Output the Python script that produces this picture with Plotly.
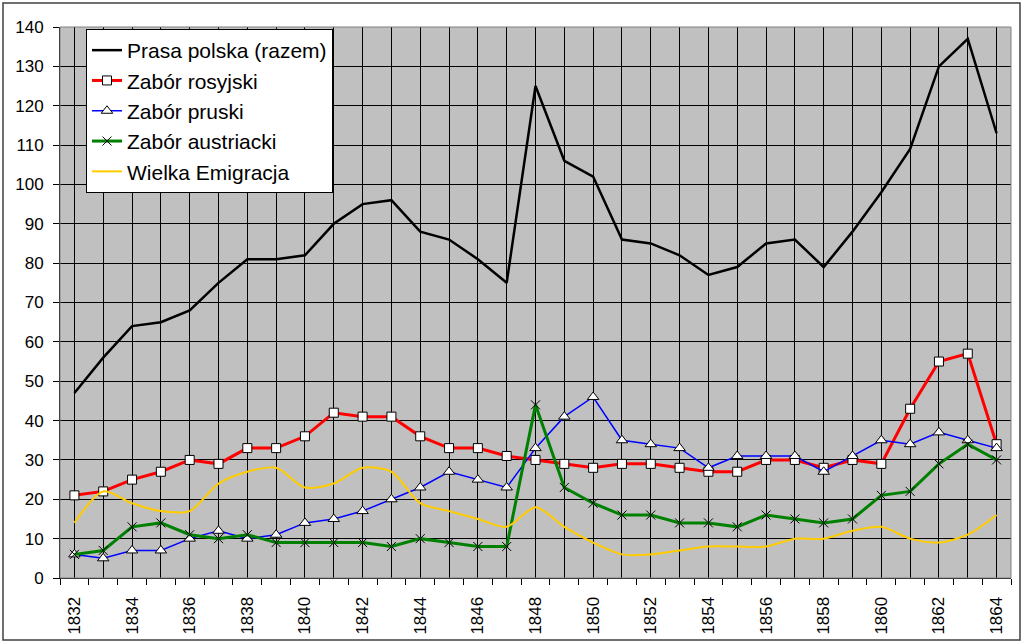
import plotly.graph_objects as go

years = list(range(1832, 1865))
prasa_polska = [47, 56, 64, 65, 68, 75, 81, 81, 82, 90, 95, 96, 88, 86, 81, 75, 125,
                106, 102, 86, 85, 82, 77, 79, 85, 86, 79, 88, 98, 109, 130, 137, 113]
zabor_rosyjski = [21, 22, 25, 27, 30, 29, 33, 33, 36, 42, 41, 41, 36, 33, 33, 31, 30,
                  29, 28, 29, 29, 28, 27, 27, 30, 30, 28, 30, 29, 43, 55, 57, 34]
zabor_pruski = [6, 5, 7, 7, 10, 12, 10, 11, 14, 15, 17, 20, 23, 27, 25, 23, 33,
                41, 46, 35, 34, 33, 28, 31, 31, 31, 27, 31, 35, 34, 37, 35, 33]
zabor_austriacki = [6, 7, 13, 14, 11, 10, 11, 9, 9, 9, 9, 8, 10, 9, 8, 8, 44,
                    23, 19, 16, 16, 14, 14, 13, 16, 15, 14, 15, 21, 22, 29, 34, 30]
wielka_emigracja = [14, 22, 19, 17, 17, 24, 27, 28, 23, 24, 28, 27, 19, 17, 15, 13, 18,
                    13, 9, 6, 6, 7, 8, 8, 8, 10, 10, 12, 13, 10, 9, 11, 16]

FONT = "Liberation Sans, Arial, sans-serif"

fig = go.Figure()
fig.add_trace(go.Scatter(x=years, y=prasa_polska, name="Prasa polska (razem)",
                         mode="lines", line=dict(color="black", width=2.5)))
fig.add_trace(go.Scatter(x=years, y=zabor_rosyjski, name="Zabór rosyjski",
                         mode="lines+markers", line=dict(color="#FF0000", width=3),
                         marker=dict(symbol="square", size=9, color="white",
                                     line=dict(color="black", width=1))))
fig.add_trace(go.Scatter(x=years, y=zabor_pruski, name="Zabór pruski",
                         mode="lines+markers", line=dict(color="#0000FF", width=1.5),
                         marker=dict(symbol="triangle-up", size=10, color="white",
                                     line=dict(color="black", width=1))))
fig.add_trace(go.Scatter(x=years, y=zabor_austriacki, name="Zabór austriacki",
                         mode="lines+markers", line=dict(color="#008000", width=3),
                         marker=dict(symbol="x-thin", size=9, color="black",
                                     line=dict(color="black", width=1))))
fig.add_trace(go.Scatter(x=years, y=wielka_emigracja, name="Wielka Emigracja",
                         mode="lines", line=dict(color="#FFCC00", width=2, shape="spline",
                                                 smoothing=0.8)))

L, R, T, B = 60, 1011, 27, 578
W, H = 1024, 644
pw, ph = R - L, B - T

def px(x):
    return (x - L) / pw

def py(y):
    return (B - y) / ph

fig.update_layout(
    width=W, height=H,
    margin=dict(l=L, r=W - R, t=T, b=H - B, pad=0, autoexpand=False),
    paper_bgcolor="white",
    plot_bgcolor="#C0C0C0",
    font=dict(family=FONT, size=17, color="black"),
    showlegend=True,
    legend=dict(x=px(86), y=py(29), xanchor="left", yanchor="top",
                bgcolor="white", bordercolor="black", borderwidth=1,
                font=dict(family=FONT, size=21, color="black"),
                tracegroupgap=0, itemwidth=30),
    xaxis=dict(range=[1831.5, 1864.5], tickmode="array", tickvals=years,
               ticktext=[str(y) if y % 2 == 0 else "" for y in years],
               tickangle=-90, ticks="", showgrid=True, gridcolor="black", gridwidth=1,
               showline=True, linecolor="black", linewidth=1, zeroline=False,
               tickfont=dict(size=17), ticklabelstandoff=11, automargin=False,
               minor=dict(tickmode="array", tickvals=[y - 0.5 for y in years] + [1864.5],
                          ticks="outside", ticklen=6, tickcolor="black", showgrid=False)),
    yaxis=dict(range=[0, 140], dtick=10, tick0=0, showgrid=True, gridcolor="black",
               gridwidth=1, ticks="outside", ticklen=6, tickcolor="black",
               showline=True, linecolor="black", linewidth=1, zeroline=False,
               tickfont=dict(size=17), ticklabelstandoff=6, automargin=False),
    shapes=[
        dict(type="rect", xref="paper", yref="paper", x0=0, x1=1, y0=0, y1=1,
             line=dict(color="#808080", width=1), fillcolor="rgba(0,0,0,0)", layer="above"),
        dict(type="rect", xref="paper", yref="paper",
             x0=px(3), x1=px(1020), y0=py(640), y1=py(3),
             line=dict(color="#404040", width=1.5), fillcolor="rgba(0,0,0,0)"),
    ],
)

fig.write_html("out.html", config={"displayModeBar": False},
               post_script="document.body.style.margin='0';document.body.style.overflow='hidden';")
